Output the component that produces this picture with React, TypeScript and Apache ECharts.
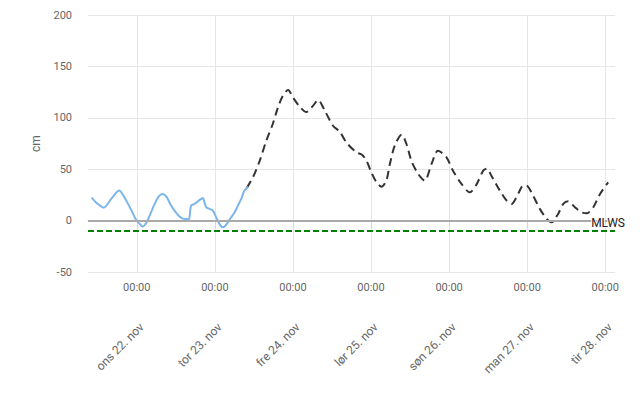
import React, { useEffect, useRef } from "react";
import * as echarts from "echarts";

// Hours since ons 22. nov 00:00
const axisStartHour = -15;
const axisEndHour = 147;
const dayTicks = [0, 24, 48, 72, 96, 120, 144];
const dayLabels = [
  "ons 22. nov",
  "tor 23. nov",
  "fre 24. nov",
  "lør 25. nov",
  "søn 26. nov",
  "man 27. nov",
  "tir 28. nov",
];
const yTicks = { min: -50, max: 200, step: 50 };

const observedHours = [
  -13.9, -12.1, -10.2, -7.8, -5.4, -4.1, -2.9, -1.6, -0.4, 0.8, 1.75, 3.0, 4.2, 5.4, 6.7, 7.9, 9.1,
  10.4, 11.6, 12.8, 14.1, 15.3, 16.0, 16.7, 17.8, 18.8, 19.8, 20.3, 20.8, 21.4, 22.4, 23.4, 24.4,
  25.4, 26.3, 27.0, 28.0, 29.0, 30.1, 31.1, 32.1, 33.1, 34.2,
];
const observedCm = [
  22.4, 16.5, 12.6, 21.4, 29.2, 24.3, 17.5, 9.7, 1.9, -2.9, -5.8, -1.9, 6.8, 15.5, 23.3, 25.8, 23.3,
  15.5, 9.7, 4.9, 1.9, 1.5, 1.3, 14.6, 16.2, 18.8, 21.1, 22.1, 17.8, 12.9, 11.4, 9.7, 3.2,
  -3.2, -6.5, -5.8, -1.7, 3.2, 8.1, 14.6, 21.1, 29.2, 33.0,
];

const forecastHours = [
  33.8, 35.7, 37.8, 39.8, 41.8, 43.4, 44.9, 46.5, 48.0, 50.1, 52.1, 54.2, 55.7, 57.8, 60.3, 62.4,
  64.4, 67.5, 69.2, 70.6, 72.1, 73.7, 75.2, 76.7, 77.8, 79.3, 81.4, 82.9, 84.4, 86.5, 88.5, 90.6,
  92.6, 95.2, 97.2, 99.8, 102.4, 104.4, 106.5, 107.6, 109.0, 111.6, 113.7, 115.2, 117.2, 118.8,
  119.8, 121.8, 123.9, 126.0, 127.5, 129.5, 131.1, 132.6, 134.7, 136.7, 138.3, 140.3, 142.4, 144.9,
];
const forecastCm = [
  31.8, 42.1, 58.3, 77.7, 94.0, 110.1, 121.5, 127.0, 119.8, 110.8, 105.6, 111.8, 117.3, 106.9, 92.3,
  86.5, 76.1, 66.4, 64.1, 58.3, 46.9, 37.2, 33.0, 38.9, 55.1, 72.9, 83.6, 74.5, 58.3, 45.4, 38.9,
  55.1, 68.0, 61.5, 48.6, 35.7, 27.5, 35.0, 48.6, 50.5, 43.7, 29.2, 19.4, 16.2, 25.9, 34.0, 34.0,
  24.3, 11.4, 1.7, -1.7, 6.5, 16.2, 18.8, 12.9, 8.1, 7.1, 12.9, 25.9, 37.2,
];

const zeroLevel = 0;
const mlwsLevel = -10;
const mlwsName = "MLWS";

const FONT = "Roboto, sans-serif";

export default function App() {
  const ref = useRef<HTMLDivElement>(null);
  useEffect(() => {
    if (!ref.current) return;
    const chart = echarts.init(ref.current, null, { renderer: "svg" });
    const dateLabelShift = 1.5;
    chart.setOption({
      animation: false,
      backgroundColor: "#ffffff",
      grid: { left: 88, right: 25, top: 15, bottom: 126 },
      xAxis: [
        {
          type: "value",
          min: axisStartHour,
          max: axisEndHour,
          position: "bottom",
          axisLine: { show: true, lineStyle: { color: "#ccd6eb", width: 1 } },
          axisTick: { show: true, length: 8, lineStyle: { color: "#ccd6eb" }, customValues: dayTicks },
          axisLabel: {
            customValues: dayTicks,
            formatter: () => "00:00",
            color: "#666666",
            fontSize: 11,
            fontFamily: FONT,
            margin: 10,
          },
          splitLine: { show: true, lineStyle: { color: "#e6e6e6", width: 1 } },
        },
        {
          type: "value",
          min: axisStartHour,
          max: axisEndHour,
          position: "bottom",
          offset: 45,
          axisLine: { show: false },
          axisTick: { show: false, customValues: dayTicks.map((h) => h + dateLabelShift) },
          splitLine: { show: false },
          axisLabel: {
            customValues: dayTicks.map((h) => h + dateLabelShift),
            formatter: (v: number) => dayLabels[Math.round((v - dateLabelShift) / 24)] || "",
            rotate: 45,
            color: "#666666",
            fontSize: 12,
            fontFamily: FONT,
            margin: 8,
          },
        },
      ],
      yAxis: {
        type: "value",
        min: yTicks.min,
        max: yTicks.max,
        interval: yTicks.step,
        name: "cm",
        nameLocation: "middle",
        nameGap: 46,
        nameTextStyle: { color: "#666666", fontSize: 12, fontFamily: FONT },
        axisLine: { show: false },
        axisTick: { show: false },
        axisLabel: { color: "#666666", fontSize: 11, fontFamily: FONT, margin: 16 },
        splitLine: { show: true, lineStyle: { color: "#e6e6e6", width: 1 } },
      },
      series: [
        {
          type: "line",
          data: [],
          z: 1,
          silent: true,
          markLine: {
            silent: true,
            symbol: ["none", "none"],
            animation: false,
            data: [
              {
                yAxis: zeroLevel,
                lineStyle: { color: "#aaaaaa", width: 2, type: "solid" },
                label: { show: false },
              },
              {
                yAxis: mlwsLevel,
                lineStyle: { color: "#008000", width: 2, type: [6, 3] },
                label: {
                  show: true,
                  formatter: mlwsName,
                  position: "insideEndTop",
                  distance: 2,
                  offset: [12, 0],
                  color: "#222222",
                  fontSize: 12,
                  fontFamily: FONT,
                  textBorderColor: "#ffffff",
                  textBorderWidth: 2,
                },
              },
            ],
          },
        },
        {
          type: "line",
          name: "observed",
          z: 3,
          data: observedHours.map((h, i) => [h, observedCm[i]]),
          showSymbol: false,
          smooth: 0.3,
          lineStyle: { color: "#7cb5ec", width: 2 },
        },
        {
          type: "line",
          name: "forecast",
          z: 2,
          data: forecastHours.map((h, i) => [h, forecastCm[i]]),
          showSymbol: false,
          smooth: 0.3,
          lineStyle: { color: "#333333", width: 2, type: [8, 5] },
        },
      ],
    });
    return () => chart.dispose();
  }, []);
  return (
    <div
      ref={ref}
      style={{ position: "absolute", left: 0, top: 0, width: 640, height: 398 }}
    />
  );
}
